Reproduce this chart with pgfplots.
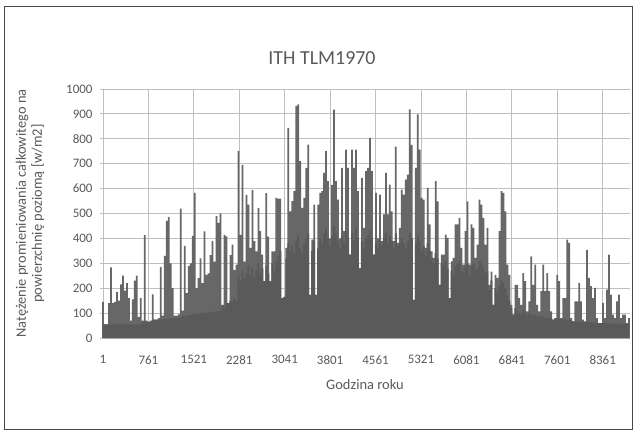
\documentclass[border=0pt]{standalone}
\usepackage{fontspec}
\setmainfont{Carlito}
\usepackage{pgfplots}
\usepackage{pgfplotstable}
\pgfplotsset{compat=1.18}
\definecolor{txt}{HTML}{595959}
\definecolor{grid}{HTML}{D9D9D9}
\definecolor{barc}{HTML}{676767}
\definecolor{basec}{HTML}{5A5A5A}
\pgfplotstableread{
v b
145 55
55 55
55 55
140 55
284 55
140 55
145 55
185 55
150 55
215 55
250 55
190 55
220 55
160 55
70 55
155 55
230 55
250 55
85 55
160 55
70 65
413 65
70 66
65 65
70 68
175 70
75 71
75 72
80 73
285 74
90 75
330 76
470 77
485 78
300 79
200 80
90 81
90 82
95 83
520 85
110 90
370 90
180 90
290 92
300 93
410 95
583 96
200 97
240 98
320 99
220 100
428 101
254 102
260 103
333 104
389 105
307 106
489 107
462 108
500 110
133 130
414 120
408 140
140 139
333 150
375 145
273 160
295 150
750 250
414 230
695 270
307 240
575 260
536 290
362 250
595 280
389 240
348 270
523 300
429 260
335 280
228 228
582 290
407 260
228 228
348 300
348 270
563 310
560 330
560 350
160 160
165 165
362 320
844 380
509 350
550 370
590 340
931 390
938 410
710 360
523 340
563 380
683 400
777 420
173 173
395 350
536 390
173 173
536 360
583 400
590 380
663 420
750 440
630 400
400 370
615 410
917 450
630 420
556 390
400 360
683 410
429 380
757 430
683 400
335 335
757 420
683 390
757 440
590 400
280 280
643 390
442 360
670 400
683 410
804 430
670 400
335 335
583 380
400 360
576 390
389 370
496 400
663 420
496 380
616 410
509 390
389 360
769 420
382 370
442 380
596 400
576 380
636 360
656 390
918 420
776 400
153 153
683 380
898 410
757 390
563 350
556 370
362 330
603 380
456 350
348 320
322 300
630 340
549 320
213 213
335 300
335 290
415 310
402 280
160 160
308 270
322 250
456 290
456 300
482 310
362 270
295 260
429 290
549 300
295 250
456 290
442 300
322 270
375 280
556 310
536 300
482 280
375 260
442 270
213 190
267 230
133 133
254 200
241 180
429 210
590 230
583 220
509 200
295 170
254 150
133 120
94 94
213 120
213 110
160 100
133 95
261 110
228 100
107 90
147 100
328 95
213 90
295 95
133 85
107 90
188 85
295 90
188 80
261 80
188 80
107 80
74 74
80 78
254 78
228 77
80 77
160 76
160 75
395 74
382 73
80 72
67 67
147 66
147 66
221 65
147 65
74 65
67 65
354 64
241 64
208 63
160 63
201 62
80 62
60 60
60 60
141 60
80 60
194 59
335 59
174 58
94 58
80 58
147 57
174 57
80 57
94 56
94 56
60 56
80 56
}\datatab
\begin{document}
\begin{tikzpicture}
\path (-100bp,-94bp) rectangle (536bp,338bp);
\draw[color=txt!80!black, line width=0.8bp] (-96bp,-91bp) rectangle (532bp,332bp);
\begin{axis}[
  scale only axis,
  width=530bp, height=249bp,
  xmin=-49, xmax=8818,
  ymin=0, ymax=1000,
  axis line style={draw=none},
  ytick={0,100,...,1000},
  xtick={1,761,1521,2281,3041,3801,4561,5321,6081,6841,7601,8361},
  ymajorgrids,
  grid style={grid, line width=0.8bp},
  major tick length=0pt,
  tick label style={font=\fontsize{13}{15}\selectfont, text=txt},
  /pgf/number format/assume math mode=true,
  /pgf/number format/1000 sep={},
  yticklabel style={xshift=-4bp},
  xticklabel style={yshift=-14bp},
  xlabel={Godzina roku},
  xlabel style={font=\fontsize{14.5}{16}\selectfont, text=txt, yshift=-8bp},
  clip=false,
]
\addplot[ybar, bar width=1.75bp, fill=barc, draw=none] table[x expr=\coordindex*33.33+1, y=v] {\datatab};
\addplot[fill=basec, draw=none, const plot mark mid] table[x expr=\coordindex*33.33+1, y=b] {\datatab} \closedcycle;
\end{axis}
\node[rotate=90, align=center, font=\fontsize{14.5}{16}\selectfont, text=txt] at (-70bp,124.5bp) {Natężenie promieniowania całkowitego na\\powierzchnię poziomą [w/m2]};
\node[font=\fontsize{20}{24}\selectfont, text=txt] at (222bp,280bp) {ITH TLM1970};
\end{tikzpicture}
\end{document}
